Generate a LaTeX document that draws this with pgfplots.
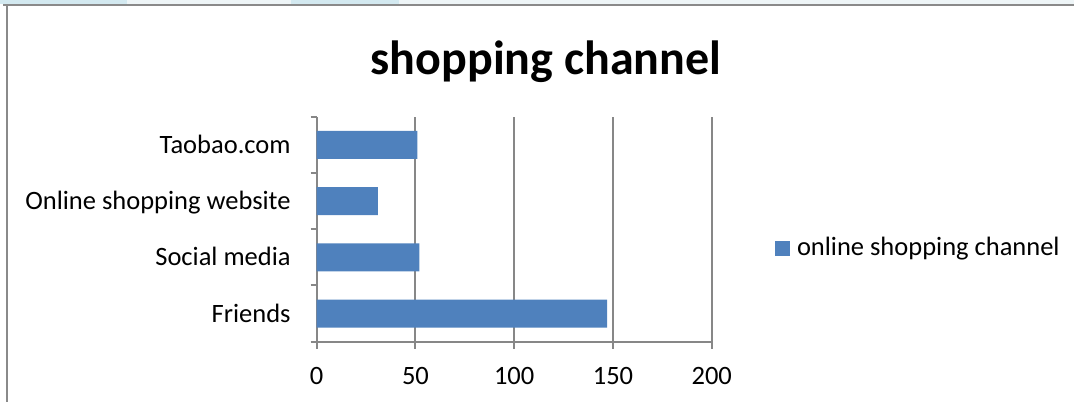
\documentclass[border=0pt]{standalone}
\usepackage{fontspec}
\setmainfont{Carlito}
\usepackage{pgfplots}
\pgfplotsset{compat=1.18}
\definecolor{barblue}{HTML}{4F81BD}
\definecolor{gridgray}{HTML}{878787}
\definecolor{framegray}{HTML}{8A8A8A}
\definecolor{stripA}{HTML}{D3E9F0}
\definecolor{stripB}{HTML}{EEF5F7}
\begin{document}
\begin{tikzpicture}[x=1bp,y=1bp]
\useasboundingbox (0,0) rectangle (537,201);
\fill[stripA] (0,199) rectangle (63.5,201);
\fill[stripB] (63.5,199) rectangle (145.5,201);
\fill[stripA] (145.5,199) rectangle (199.5,201);
\fill[stripB] (199.5,199) rectangle (537,201);
\draw[framegray, line width=1.2bp] (1.5,198.6) -- (537,198.6);
\draw[framegray, line width=1.2bp] (3.5,198.6) -- (3.5,0);
\node[anchor=base, font=\fontsize{24bp}{28bp}\bfseries\selectfont] at (273,164) {shopping channel};
\begin{axis}[
  at={(158.35bp,30.15bp)}, anchor=south west,
  scale only axis, width=197.5bp, height=112.5bp,
  xbar, bar width=14bp,
  xmin=0, xmax=200, ymin=-0.5, ymax=3.5,
  axis lines*=left,
  axis line style={gridgray, line width=1bp},
  xtick={0,50,100,150,200},
  xmajorgrids, grid style={gridgray, line width=1bp},
  ytick={0,1,2,3},
  yticklabels={Friends, Social media, Online shopping website, Taobao.com},
  ytick style={draw=none},
  extra y ticks={-0.5,0.5,1.5,2.5,3.5},
  extra y tick labels={},
  extra y tick style={ytick style={draw=gridgray,line width=1bp}, major tick length=3bp, tick align=outside, grid=none},
  xtick style={gridgray, line width=1bp},
  major tick length=3.5bp, tick align=outside,
  tick label style={font=\fontsize{13.25bp}{16bp}\selectfont, inner sep=0pt},
  xticklabel style={anchor=base, yshift=-17.65bp},
  yticklabel style={anchor=base east, xshift=-9.35bp, yshift=-4.25bp},
  /pgf/number format/assume math mode=true,
  legend style={at={(1.1603,0.4156)}, anchor=west, draw=none, fill=none, inner sep=0pt, outer sep=0pt,
    font=\fontsize{13.25bp}{16bp}\selectfont,
    /tikz/every odd column/.append style={column sep=1.5bp}},
  legend image code/.code={\fill[barblue] (0bp,-3.75bp) rectangle (7.5bp,3.75bp);},
]
\addplot[fill=barblue, draw=none] coordinates {(147,0) (52,1) (31,2) (51,3)};
\addlegendentry{online shopping channel}
\end{axis}
\end{tikzpicture}
\end{document}
